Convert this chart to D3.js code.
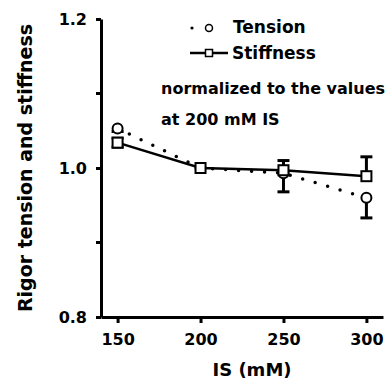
<!DOCTYPE html>
<html>
<head>
<meta charset="utf-8">
<script src="https://cdn.jsdelivr.net/npm/d3@7"></script>
<style>
  body { margin: 0; background: #fff; }
  text { font-family: "DejaVu Sans", sans-serif; font-weight: bold; }
</style>
</head>
<body>
<svg id="chart"></svg>
<script>
// data
const ionicStrength = [150, 200, 250, 300];
const tension = [1.053, 1.000, 0.993, 0.960];
const tensionErr = [0.004, 0.000, 0.025, 0.027];
const stiffness = [1.034, 1.000, 0.997, 0.989];
const stiffnessErr = [0.006, 0.000, 0.013, 0.026];
const yTicks = [0.8, 1.0, 1.2];
const yMinorTicks = [0.9, 1.1];
const xTicks = [150, 200, 250, 300];

let width = 390, height = 382;

let svg = d3.select('#chart')
    .attr('width', width)
    .attr('height', height);

let x = d3.scaleLinear().domain([140, 310]).range([101, 383]);
let y = d3.scaleLinear().domain([0.8, 1.2]).range([317, 19]);

// axes
let yAxis = d3.axisLeft(y)
    .tickValues(yTicks)
    .tickFormat(d3.format('.1f'))
    .tickSize(5)
    .tickSizeOuter(0)
    .tickPadding(9);

let gy = svg.append('g')
    .attr('transform', `translate(${x.range()[0]},0)`)
    .call(yAxis);

gy.selectAll('.minor')
    .data(yMinorTicks)
  .enter().append('line')
    .attr('class', 'minor')
    .attr('x1', -5)
    .attr('x2', 0)
    .attr('y1', d => y(d))
    .attr('y2', d => y(d));

let xAxis = d3.axisBottom(x)
    .tickValues(xTicks)
    .tickSize(6)
    .tickSizeOuter(0)
    .tickPadding(11);

let gx = svg.append('g')
    .attr('transform', `translate(0,${y.range()[0]})`)
    .call(xAxis);

svg.selectAll('.domain, .tick line, .minor')
    .style('stroke', '#000')
    .style('stroke-width', '3px');

svg.selectAll('.tick text')
    .style('font-size', '16px')
    .style('fill', '#000');

// axis titles
svg.append('text')
    .attr('x', 252)
    .attr('y', 376)
    .attr('text-anchor', 'middle')
    .style('font-size', '18px')
    .text('IS (mM)');

svg.append('text')
    .attr('transform', `translate(32,168) rotate(-90)`)
    .attr('text-anchor', 'middle')
    .style('font-size', '19px')
    .text('Rigor tension and stiffness');

// series
let tensionData = ionicStrength.map((d, i) => ({ x: d, y: tension[i], e: tensionErr[i] }));
let stiffnessData = ionicStrength.map((d, i) => ({ x: d, y: stiffness[i], e: stiffnessErr[i] }));

let line = d3.line()
    .x(d => x(d.x))
    .y(d => y(d.y));

svg.append('path')
    .datum(tensionData)
    .attr('d', line)
    .style('fill', 'none')
    .style('stroke', '#000')
    .style('stroke-width', '3.5px')
    .style('stroke-linecap', 'round')
    .style('stroke-dasharray', '0,13');

svg.append('path')
    .datum(stiffnessData)
    .attr('d', line)
    .style('fill', 'none')
    .style('stroke', '#000')
    .style('stroke-width', '2.5px');

// error bars: tension goes down, stiffness goes up
function errorBars(data, dir) {
  let g = svg.append('g');
  data.filter(d => d.e > 0).forEach(d => {
    let y0 = y(d.y), y1 = y(d.y + dir * d.e);
    g.append('line')
        .attr('x1', x(d.x)).attr('x2', x(d.x))
        .attr('y1', y0).attr('y2', y1)
        .style('stroke', '#000').style('stroke-width', '3px');
    g.append('line')
        .attr('x1', x(d.x) - 6).attr('x2', x(d.x) + 6)
        .attr('y1', y1).attr('y2', y1)
        .style('stroke', '#000').style('stroke-width', '3px');
  });
}

errorBars(tensionData, -1);
errorBars(stiffnessData, 1);
// stiffness at 150 extends downward too
errorBars([stiffnessData[0]], -1);

svg.selectAll('.tpt')
    .data(tensionData)
  .enter().append('circle')
    .attr('class', 'tpt')
    .attr('cx', d => x(d.x))
    .attr('cy', d => y(d.y))
    .attr('r', 5)
    .style('fill', '#fff')
    .style('stroke', '#000')
    .style('stroke-width', '2px');

svg.selectAll('.spt')
    .data(stiffnessData)
  .enter().append('rect')
    .attr('class', 'spt')
    .attr('x', d => x(d.x) - 5)
    .attr('y', d => y(d.y) - 5)
    .attr('width', 10)
    .attr('height', 10)
    .style('fill', '#fff')
    .style('stroke', '#000')
    .style('stroke-width', '2px');

// legend
let legend = svg.append('g');
legend.append('circle')
    .attr('cx', 192).attr('cy', 28).attr('r', 1.6)
    .style('fill', '#000');
legend.append('circle')
    .attr('cx', 209).attr('cy', 28).attr('r', 3.5)
    .style('fill', '#fff').style('stroke', '#000').style('stroke-width', '1.5px');
legend.append('text')
    .attr('x', 233).attr('y', 33)
    .style('font-size', '17px')
    .text('Tension');

legend.append('line')
    .attr('x1', 190).attr('x2', 228).attr('y1', 53).attr('y2', 53)
    .style('stroke', '#000').style('stroke-width', '2.5px');
legend.append('rect')
    .attr('x', 205.5).attr('y', 49.5).attr('width', 7).attr('height', 7)
    .style('fill', '#fff').style('stroke', '#000').style('stroke-width', '1.5px');
legend.append('text')
    .attr('x', 232).attr('y', 59)
    .style('font-size', '17px')
    .text('Stiffness');

svg.append('text')
    .attr('x', 161).attr('y', 94)
    .style('font-size', '16px')
    .text('normalized to the values');
svg.append('text')
    .attr('x', 161).attr('y', 125)
    .style('font-size', '16px')
    .text('at 200 mM IS');
</script>
</body>
</html>
